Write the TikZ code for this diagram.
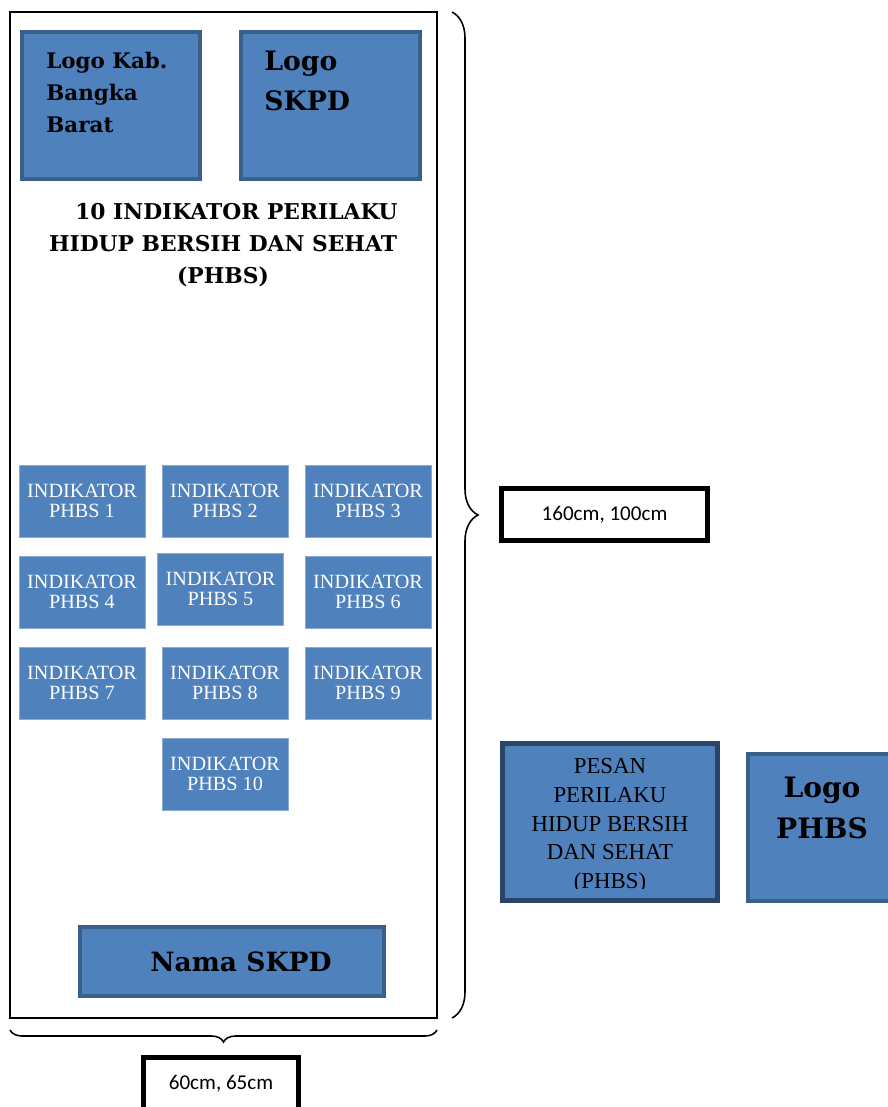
\documentclass[tikz,border=0pt]{standalone}
\usepackage{fontspec}
\setmainfont{Liberation Serif}
\newfontfamily\boldface{DejaVu Serif}
\newfontfamily\calfont{Carlito}
\usetikzlibrary{decorations.pathreplacing}

\definecolor{phbsfill}{HTML}{4F81BD}
\definecolor{phbsline}{HTML}{3A5F8B}
\definecolor{pesanline}{HTML}{2A4468}
\definecolor{indline}{HTML}{8AAAD3}

\tikzset{
    logobox/.style={draw=phbsline, line width=2.2pt, fill=phbsfill, inner sep=0pt},
    indbox/.style={draw=indline, line width=0.4pt, fill=phbsfill, inner sep=0pt,
        minimum width=2.52cm, minimum height=1.44cm, text=white, align=center,
        font=\fontsize{11.5}{11.5}\selectfont},
    sizebox/.style={draw=black, line width=2.8pt, fill=white, inner sep=0pt,
        font=\calfont\fontsize{12}{14}\selectfont},
    bracedeco/.style={decorate, line width=0.9pt}
}

\begin{document}
\begin{tikzpicture}[x=0.02cm, y=-0.02cm]
    \useasboundingbox (0,0) rectangle (887,1107);

    % Poster frame
    \node[draw, line width=1.1pt, minimum width=8.54cm, minimum height=20.12cm, inner sep=0pt] (poster) at (223.5,515) {};

    % Logos at the top
    \node[logobox, minimum width=3.56cm, minimum height=2.94cm] (logokab) at (111,105.5) {};
    \node[logobox, minimum width=3.58cm, minimum height=2.94cm] (logoskpd) at (330.5,105.5) {};
    \node[anchor=north west, inner sep=0pt, align=left, font=\boldface\bfseries\fontsize{12.2}{18.1}\selectfont] (logokabtext) at (46,52) {Logo Kab.\\Bangka\\Barat};
    \node[anchor=north west, inner sep=0pt, align=left, font=\boldface\bfseries\fontsize{15.2}{22.7}\selectfont] (logoskpdtext) at (264,51) {Logo\\SKPD};

    % Title
    \node[align=center, inner sep=0pt, font=\boldface\bfseries\fontsize{12.4}{18.1}\selectfont] (title) at (223,245)
        {\hspace{0.54cm}10 INDIKATOR PERILAKU\\HIDUP BERSIH DAN SEHAT\\(PHBS)};

    % Indicator boxes
    \foreach \n/\x/\y in {1/82/501, 2/225/501, 3/368/501,
                          4/82/592, 5/220.5/589, 6/368/592,
                          7/82/683, 8/225/683, 9/368/683, 10/225/774}
        \node[indbox] (ind\n) at (\x,\y) {INDIKATOR\\PHBS \n};

    % Name of the SKPD
    \node[logobox, minimum width=6.08cm, minimum height=1.38cm, font=\boldface\bfseries\fontsize{15.1}{20}\selectfont] (namaskpd) at (232,961.5) {\hspace{0.36cm}Nama SKPD};

    % Braces and sizes
    \coordinate (rbtop) at (452,12);
    \coordinate (rbbot) at (452,1018);
    \coordinate (bbleft) at (10,1030);
    \coordinate (bbright) at (437,1030);
    \draw[bracedeco, decoration={brace, amplitude=0.52cm}] (rbtop) -- (rbbot);
    \draw[bracedeco, decoration={brace, amplitude=0.24cm}] (bbright) -- (bbleft);
    \node[sizebox, minimum width=4.12cm, minimum height=1.04cm] (sizebig) at (604.5,514.5) {160cm, 100cm};
    \node[sizebox, minimum width=3.1cm, minimum height=1.04cm] (sizesmall) at (221,1083.5) {60cm, 65cm};

    % Message and PHBS logo
    \node[draw=pesanline, line width=2.8pt, fill=phbsfill, minimum width=4.3cm, minimum height=3.14cm, inner sep=0pt] (pesan) at (610,822) {};
    \begin{scope}
        \clip (505,746) rectangle (715,888);
        \node[align=center, inner sep=0pt, font=\fontsize{13}{16.4}\selectfont] (pesantext) at (610,826)
            {PESAN\\PERILAKU\\HIDUP BERSIH\\DAN SEHAT\\(PHBS)};
    \end{scope}
    \node[logobox, minimum width=2.96cm, minimum height=2.94cm] (logophbs) at (822,827.5) {};
    \node[align=center, inner sep=0pt, font=\boldface\bfseries\fontsize{16}{23.2}\selectfont] (logophbstext) at (822,808) {Logo\\PHBS};
\end{tikzpicture}
\end{document}
